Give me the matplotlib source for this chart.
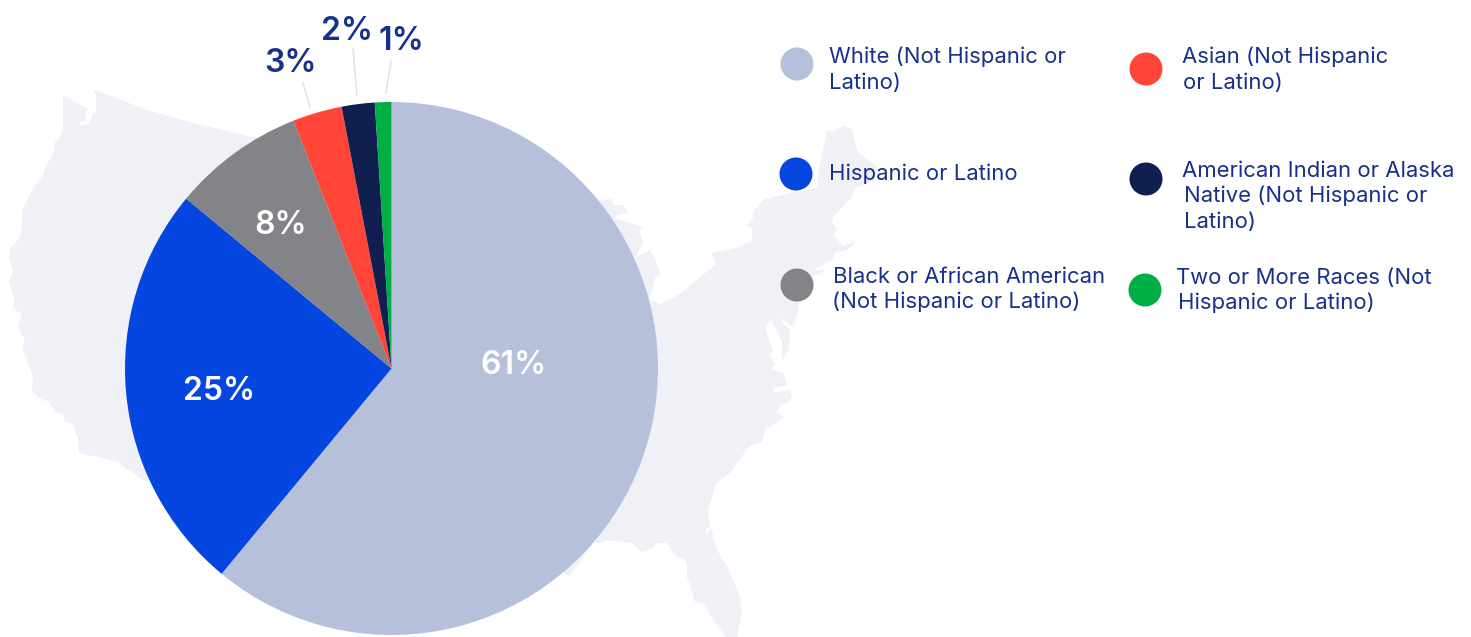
import matplotlib
matplotlib.use("Agg")
from matplotlib import pyplot as plt
from matplotlib.patches import Polygon, Circle

plt.rcParams['font.family'] = ['Inter', 'DejaVu Sans']

categories = ["White (Not Hispanic or\nLatino)", "Hispanic or Latino",
              "Black or African American\n(Not Hispanic or Latino)",
              "Asian (Not Hispanic\nor Latino)",
              "American Indian or Alaska\nNative (Not Hispanic or\nLatino)",
              "Two or More Races (Not\nHispanic or Latino)"]
shares = [61, 25, 8, 3, 2, 1]
colors = ['#B6C0DB', '#0546E0', '#838487', '#FF4438', '#111E50', '#00AF43']

TEXT_COLOR = '#17308A'
LEADER_COLOR = '#E2E4EE'
MAP_COLOR = '#F0F1F7'

W, H = 1471, 637
CX, CY, R = 391.5, 368.5, 266.5

# pixel positions for labels and legend rows
label_pos = [(513.5, 365), (219, 391), (281, 225), (291, 63), (347, 31), (401, 41)]
label_colors = ['white', 'white', 'white', TEXT_COLOR, TEXT_COLOR, TEXT_COLOR]
leaders = [None, None, None, ((303, 83), (310, 107)), ((353, 49), (357, 95)), ((391, 61), (386, 93))]
dot_pos = [(797, 64), (796, 174), (797, 285), (1146, 69), (1146, 179), (1145, 290)]
legend_x = [[829, 829], [829], [833, 832], [1182, 1183], [1182, 1184, 1184], [1176, 1178]]
legend_y = [[63, 89], [180], [283, 308], [63, 89], [177, 202, 228], [284, 309]]

# rough outline of the lower 48, in pixels
us_outline = [
    (63, 95), (88, 109), (85, 113), (86, 121), (80, 123), (79, 126), (90, 123), (93, 113), (96, 113),
    (96, 95), (93, 89), (147, 110), (193, 123), (257, 138), (400, 150), (600, 200), (612, 199), (613, 205),
    (622, 205), (628, 212), (617, 215), (615, 218), (642, 227), (640, 232), (643, 242), (635, 258),
    (650, 250), (655, 258), (661, 275), (655, 278), (649, 300), (660, 304), (675, 297), (685, 290),
    (716, 264), (711, 253), (737, 248), (752, 240), (752, 228), (746, 226), (753, 218), (753, 212),
    (763, 200), (777, 196), (817, 188), (819, 170), (827, 130), (833, 132), (843, 125), (852, 130),
    (858, 152), (877, 167), (875, 180), (855, 188), (851, 198), (833, 217), (832, 223), (837, 229),
    (833, 235), (843, 246), (855, 242), (848, 237), (855, 243), (847, 250), (835, 253), (832, 260),
    (813, 270), (827, 270), (810, 278), (800, 300), (797, 317), (792, 327), (782, 318), (782, 323),
    (790, 330), (789, 350), (782, 360), (782, 342), (772, 320), (765, 327), (770, 343), (773, 350),
    (769, 355), (775, 363), (771, 370), (783, 373), (787, 385), (773, 388), (775, 393), (790, 390),
    (792, 397), (788, 403), (780, 405), (777, 413), (784, 417), (765, 430), (762, 442), (750, 445),
    (730, 473), (716, 483), (708, 510), (710, 527), (705, 530), (706, 535), (711, 528), (717, 550),
    (728, 568), (740, 597), (742, 613), (737, 637), (726, 637), (713, 620), (703, 603), (695, 602),
    (690, 585), (687, 577), (687, 562), (673, 553), (667, 543), (655, 543), (653, 548), (642, 552),
    (632, 543), (605, 540), (603, 543), (593, 543), (573, 572), (568, 576), (560, 570), (300, 600),
    (160, 488), (140, 478), (132, 472), (121, 465), (120, 462), (79, 453), (78, 438), (72, 423),
    (65, 422), (63, 415), (55, 412), (48, 401), (43, 400), (32, 392), (33, 377), (22, 347), (25, 340),
    (18, 327), (22, 313), (18, 312), (13, 307), (15, 300), (9, 282), (13, 270), (9, 257), (10, 248),
    (18, 240), (21, 233), (23, 208), (33, 188), (43, 175), (45, 167), (53, 155), (55, 142), (60, 137),
    (63, 130), (63, 123),
]

fig = plt.figure(figsize=(W / 100, H / 100), dpi=100)

# background layer in pixel coordinates
bg = fig.add_axes([0, 0, 1, 1], zorder=0)
bg.set_xlim(0, W)
bg.set_ylim(H, 0)
bg.axis('off')
bg.add_patch(Polygon(us_outline, closed=True, facecolor=MAP_COLOR, edgecolor='none'))

# pie axes sized so the radius comes out at R pixels
size = 2.5 * R
pie_ax = fig.add_axes([(CX - size / 2) / W, (H - CY - size / 2) / H, size / W, size / H], zorder=1)
pie_ax.pie(shares, colors=colors, startangle=90, counterclock=False, radius=1)
pie_ax.set_xlim(-1.25, 1.25)
pie_ax.set_ylim(-1.25, 1.25)
pie_ax.patch.set_alpha(0)

# labels and legend on top
top = fig.add_axes([0, 0, 1, 1], zorder=2)
top.set_xlim(0, W)
top.set_ylim(H, 0)
top.axis('off')
for i in range(len(shares)):
    x, y = label_pos[i]
    top.text(x, y, "%d%%" % shares[i], color=label_colors[i], fontsize=23, fontweight='semibold',
             ha='center', va='center')
    if leaders[i] is not None:
        (x0, y0), (x1, y1) = leaders[i]
        top.plot([x0, x1], [y0, y1], color=LEADER_COLOR, lw=1.2)
    top.add_patch(Circle(dot_pos[i], 16.5, facecolor=colors[i], edgecolor='none'))
    rows = categories[i].split("\n")
    for j in range(len(rows)):
        top.text(legend_x[i][j], legend_y[i][j], rows[j], color=TEXT_COLOR, fontsize=15.9,
                 ha='left', va='baseline')

fig.savefig("out.png", dpi=100)
